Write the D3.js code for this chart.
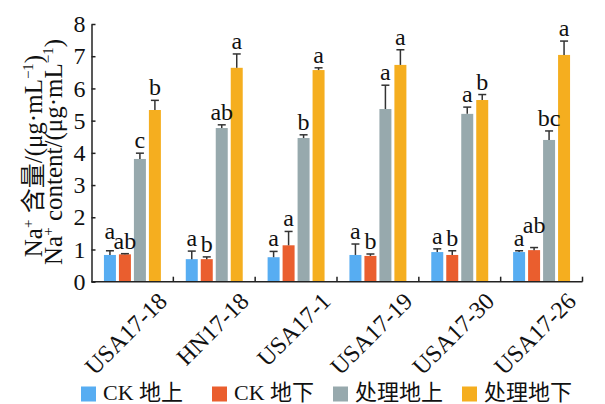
<!DOCTYPE html>
<html>
<head>
<meta charset="utf-8">
<script src="https://cdn.jsdelivr.net/npm/d3@7"></script>
<style>
  html, body { margin: 0; padding: 0; background: #fff; }
  svg { display: block; }
  text { font-family: "Liberation Serif", "Noto Sans CJK SC", serif; fill: #111; }
</style>
</head>
<body>
<svg id="chart" width="605" height="404"></svg>
<script>
// ---- Data ----
const categories = ["USA17-18", "HN17-18", "USA17-1", "USA17-19", "USA17-30", "USA17-26"];
const seriesNames = ["CK 地上", "CK 地下", "处理地上", "处理地下"];
const seriesColors = ["#57ADF2", "#EA5E2E", "#97A9AD", "#F5AE1F"];

const ckAbove       = [0.83, 0.70, 0.76, 0.83, 0.92, 0.92];
const ckAboveErr    = [0.13, 0.25, 0.18, 0.34, 0.10, 0.04];
const ckAboveSig    = ["a", "a", "a", "a", "a", "a"];

const ckBelow       = [0.85, 0.70, 1.13, 0.80, 0.83, 0.98];
const ckBelowErr    = [0.02, 0.07, 0.43, 0.06, 0.13, 0.08];
const ckBelowSig    = ["ab", "b", "a", "b", "b", "ab"];

const trtAbove      = [3.81, 4.77, 4.46, 5.36, 5.21, 4.40];
const trtAboveErr   = [0.18, 0.10, 0.10, 0.74, 0.21, 0.28];
const trtAboveSig   = ["c", "ab", "b", "a", "a", "bc"];

const trtBelow      = [5.33, 6.64, 6.57, 6.73, 5.64, 7.04];
const trtBelowErr   = [0.30, 0.43, 0.07, 0.47, 0.17, 0.43];
const trtBelowSig   = ["b", "a", "a", "a", "b", "a"];

const yTicks = [0, 1, 2, 3, 4, 5, 6, 7, 8];

const seriesValues = [ckAbove, ckBelow, trtAbove, trtBelow];
const seriesErrors = [ckAboveErr, ckBelowErr, trtAboveErr, trtBelowErr];
const seriesSig    = [ckAboveSig, ckBelowSig, trtAboveSig, trtBelowSig];

// ---- Layout ----
const svg = d3.select("#chart");
const mLeft = 91.5, mRight = 582.5, mTop = 24, mBottom = 281.7;

const x = d3.scaleBand().domain(categories).range([mLeft, mRight]).padding(0);
const bw = x.bandwidth();
const xi = d3.scaleBand().domain(d3.range(seriesNames.length))
  .range([bw * 0.152, bw * 0.848]).paddingInner(0.2).paddingOuter(0);
const y = d3.scaleLinear().domain([0, 8]).range([mBottom, mTop]);

// bars
const rows = [];
categories.forEach((c, ci) => {
  seriesNames.forEach((s, si) => {
    rows.push({ c, ci, si, v: seriesValues[si][ci], e: seriesErrors[si][ci], sig: seriesSig[si][ci] });
  });
});

svg.append("g").selectAll("rect").data(rows).join("rect")
  .attr("x", d => x(d.c) + xi(d.si))
  .attr("y", d => y(d.v))
  .attr("width", xi.bandwidth())
  .attr("height", d => y(0) - y(d.v))
  .attr("fill", d => seriesColors[d.si]);

// error bars
const eg = svg.append("g").attr("stroke", "#333").attr("stroke-width", 1.5);
rows.forEach(d => {
  const cx = x(d.c) + xi(d.si) + xi.bandwidth() / 2;
  eg.append("line").attr("x1", cx).attr("x2", cx).attr("y1", y(d.v)).attr("y2", y(d.v + d.e));
  eg.append("line").attr("x1", cx - 4).attr("x2", cx + 4).attr("y1", y(d.v + d.e)).attr("y2", y(d.v + d.e));
});

// significance letters
const lg = svg.append("g");
const labels = rows.map(d => {
  const cx = x(d.c) + xi(d.si) + xi.bandwidth() / 2;
  const t = lg.append("text")
    .attr("x", cx).attr("text-anchor", "middle")
    .style("font-size", "24px")
    .text(d.sig);
  const w = t.node().getComputedTextLength();
  return { d, t, cx, w, base: y(d.v + d.e) - 5 };
});
// simple collision handling within each group
categories.forEach((c, ci) => {
  const g = labels.filter(l => l.d.ci === ci);
  for (let i = 0; i < g.length - 1; i++) {
    const a = g[i], b = g[i + 1];
    const gap = (b.cx - b.w / 2) - (a.cx + a.w / 2);
    if (gap < 2 && Math.abs(a.base - b.base) < 14) {
      if (a.base <= b.base) a.base = b.base - 10;
      else b.base = a.base - 13;
    }
  }
});
labels.forEach(l => l.t.attr("y", l.base));

// y axis
const yAxis = d3.axisLeft(y).tickValues(yTicks).tickSizeInner(-4).tickSizeOuter(0).tickPadding(6);
const ya = svg.append("g").attr("transform", `translate(${mLeft},0)`).call(yAxis);
ya.select(".domain").attr("stroke", "#222").attr("stroke-width", 1.5);
ya.selectAll(".tick line").attr("stroke", "#222").attr("stroke-width", 1.5);
ya.selectAll(".tick text").style("font-size", "24px").style("font-family", "Liberation Serif").attr("fill", "#111");

// x axis with boundary ticks
const xa = svg.append("g").attr("stroke", "#222").attr("stroke-width", 1.5);
xa.append("line").attr("x1", mLeft).attr("x2", mRight).attr("y1", mBottom).attr("y2", mBottom);
const bounds = categories.map(c => x(c)).concat([x.range()[1]]).slice(1);
bounds.forEach(bx => {
  xa.append("line").attr("x1", bx).attr("x2", bx).attr("y1", mBottom).attr("y2", mBottom - 5);
});

// x labels
svg.append("g").selectAll("text").data(categories).join("text")
  .attr("transform", c => `translate(${x(c) + bw / 2 + 36},${mBottom + 21}) rotate(-45)`)
  .attr("text-anchor", "end")
  .style("font-size", "24px")
  .text(c => c);

// y title
function supText(sel, parts) {
  parts.forEach(p => {
    const ts = sel.append("tspan").text(p.t);
    if (p.sup) ts.attr("dy", -9).style("font-size", "15px");
    else if (p.after) ts.attr("dy", 9);
  });
}
const t1 = svg.append("text")
  .attr("transform", "translate(42,156) rotate(-90)")
  .attr("text-anchor", "middle").style("font-size", "25px");
supText(t1, [{ t: "Na" }, { t: "+", sup: true }, { t: " 含量/(μg·mL", after: true }, { t: "−1", sup: true }, { t: ")", after: true }]);
const t2 = svg.append("text")
  .attr("transform", "translate(62,152) rotate(-90)")
  .attr("text-anchor", "middle").style("font-size", "25px");
supText(t2, [{ t: "Na" }, { t: "+", sup: true }, { t: " content/(μg·mL", after: true }, { t: "−1", sup: true }, { t: ")", after: true }]);

// legend
const legendX = [81, 212, 333, 462];
const leg = svg.append("g");
seriesNames.forEach((s, i) => {
  leg.append("rect").attr("x", legendX[i]).attr("y", 386.5).attr("width", 15).attr("height", 15)
    .attr("fill", seriesColors[i]);
  leg.append("text").attr("x", legendX[i] + 22).attr("y", 400)
    .style("font-size", "22px").text(s);
});
</script>
</body>
</html>
